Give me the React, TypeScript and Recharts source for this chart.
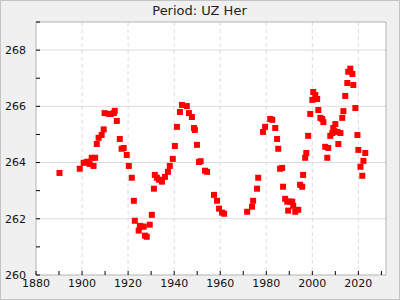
import {
  ScatterChart,
  Scatter,
  XAxis,
  YAxis,
  ZAxis,
  CartesianGrid,
  ReferenceArea,
} from "recharts";

const years = [
  1890.2, 1899.0, 1900.7, 1901.9, 1902.4, 1903.3, 1904.2, 1905.0, 1905.7, 1906.4,
  1907.2, 1908.5, 1909.4, 1909.8, 1911.6, 1912.5, 1913.8, 1914.2, 1915.1, 1916.4,
  1917.2, 1918.1, 1919.4, 1920.3, 1921.6, 1922.5, 1922.9, 1924.6, 1925.1, 1925.9,
  1926.8, 1927.3, 1928.1, 1929.4, 1930.3, 1931.2, 1931.6, 1932.5, 1933.4, 1934.7,
  1936.0, 1937.3, 1938.1, 1939.4, 1940.3, 1941.2, 1942.5, 1943.4, 1945.5, 1946.4,
  1947.7, 1948.6, 1949.0, 1949.9, 1950.8, 1951.5, 1953.4, 1954.3, 1957.3, 1958.6,
  1959.5, 1960.8, 1961.7, 1971.7, 1973.8, 1974.3, 1976.0, 1976.5, 1978.6, 1979.5,
  1981.7, 1982.6, 1983.9, 1984.7, 1985.2, 1986.0, 1986.9, 1987.3, 1988.2, 1989.1,
  1989.5, 1990.2, 1991.3, 1991.7, 1992.6, 1993.9, 1994.7, 1995.6, 1996.0, 1996.9,
  1997.4, 1998.2, 1999.1, 2000.0, 2000.4, 2001.3, 2002.1, 2002.6, 2003.5, 2004.3,
  2004.8, 2005.6, 2006.5, 2006.9, 2007.8, 2008.7, 2009.1, 2009.5, 2010.0, 2010.9,
  2011.3, 2012.2, 2013.0, 2013.5, 2014.3, 2015.2, 2015.6, 2016.5, 2017.4, 2017.8,
  2018.7, 2019.6, 2020.0, 2020.9, 2021.7, 2022.2, 2023.0,
];

const periods = [
  263.63, 263.78, 263.99, 264.01, 264.03, 263.95, 264.17, 263.88, 264.17, 264.66,
  264.88, 264.98, 265.18, 265.76, 265.73, 265.73, 265.76, 265.84, 265.48, 264.84,
  264.49, 264.52, 264.27, 263.88, 263.46, 262.64, 261.93, 261.58, 261.75, 261.72,
  261.72, 261.4, 261.36, 261.79, 262.14, 263.07, 263.56, 263.46, 263.39, 263.32,
  263.49, 263.67, 263.88, 264.13, 264.59, 265.27, 265.8, 266.05, 266.01, 265.76,
  265.62, 265.23, 265.16, 264.63, 264.02, 264.05, 263.71, 263.67, 262.85, 262.64,
  262.36, 262.22, 262.18, 262.25, 262.43, 262.64, 263.07, 263.46, 265.09, 265.27,
  265.55, 265.52, 265.23, 264.84, 264.49, 263.78, 263.81, 263.14, 262.71, 262.61,
  262.29, 262.61, 262.61, 262.46, 262.25, 262.32, 263.21, 263.14, 263.56, 264.17,
  264.34, 264.95, 265.73, 266.23, 266.51, 266.4, 266.26, 265.87, 265.59, 265.55,
  265.44, 264.56, 264.17, 264.52, 264.95, 265.05, 265.23, 265.12, 265.37, 265.09,
  264.66, 265.05, 265.59, 265.83, 266.37, 266.83, 267.23, 267.34, 267.15, 266.76,
  265.94, 264.98, 264.45, 263.85, 263.53, 264.06, 264.34,
];

const xTicks = [1880, 1890, 1900, 1910, 1920, 1930, 1940, 1950, 1960, 1970, 1980, 1990, 2000, 2010, 2020, 2030];
const yTicks = [260, 261, 262, 263, 264, 265, 266, 267, 268, 269];
const xGrid = [1900, 1920, 1940, 1960, 1980, 2000, 2020];
const yGrid = [262, 264, 266, 268];

const data = years.map((year, i) => ({ year, period: periods[i] }));

const font = "DejaVu Sans, sans-serif";

export default function App() {
  return (
    <div
      style={{
        position: "absolute",
        left: 0,
        top: 0,
        width: 400,
        height: 300,
        background: "#f0f0f0",
        border: "1px solid #c4c4c4",
        boxSizing: "border-box",
        fontFamily: font,
      }}
    >
      <div
        style={{
          position: "absolute",
          left: 0,
          top: 2,
          width: 397,
          textAlign: "center",
          fontSize: 13,
          color: "#222",
        }}
      >
        Period: UZ Her
      </div>
      <div style={{ position: "absolute", left: -1, top: -1 }}>
        <ScatterChart width={400} height={300} margin={{ top: 22, right: 14, bottom: 0, left: 0 }}>
          <CartesianGrid fill="#fff" stroke="#dcdcdc" vertical={false} horizontalValues={yGrid} />
          <CartesianGrid stroke="#dcdcdc" strokeDasharray="4 3" horizontal={false} verticalValues={xGrid} />
          <ReferenceArea x1={1880} x2={2032} y1={260} y2={269} fill="none" stroke="#b4b4b4" ifOverflow="extendDomain" />
          <XAxis
            type="number"
            dataKey="year"
            domain={[1880, 2032]}
            ticks={xTicks}
            interval={0}
            height={25}
            tickSize={-4}
            tickMargin={8}
            axisLine={false}
            tickLine={{ stroke: "#000" }}
            tickFormatter={(v: number) => (v % 20 === 0 ? String(v) : "")}
            tick={{ fill: "#111", fontSize: 11, fontFamily: font }}
          />
          <YAxis
            type="number"
            dataKey="period"
            domain={[260, 269]}
            ticks={yTicks}
            interval={0}
            width={36}
            tickSize={-4}
            tickMargin={14}
            axisLine={false}
            tickLine={{ stroke: "#000" }}
            tickFormatter={(v: number) => (v % 2 === 0 && v < 269 ? String(v) : "")}
            tick={{ fill: "#111", fontSize: 11, fontFamily: font }}
          />
          <ZAxis range={[36, 36]} />
          <Scatter data={data} fill="#ff0000" shape="square" isAnimationActive={false} />
        </ScatterChart>
      </div>
    </div>
  );
}
